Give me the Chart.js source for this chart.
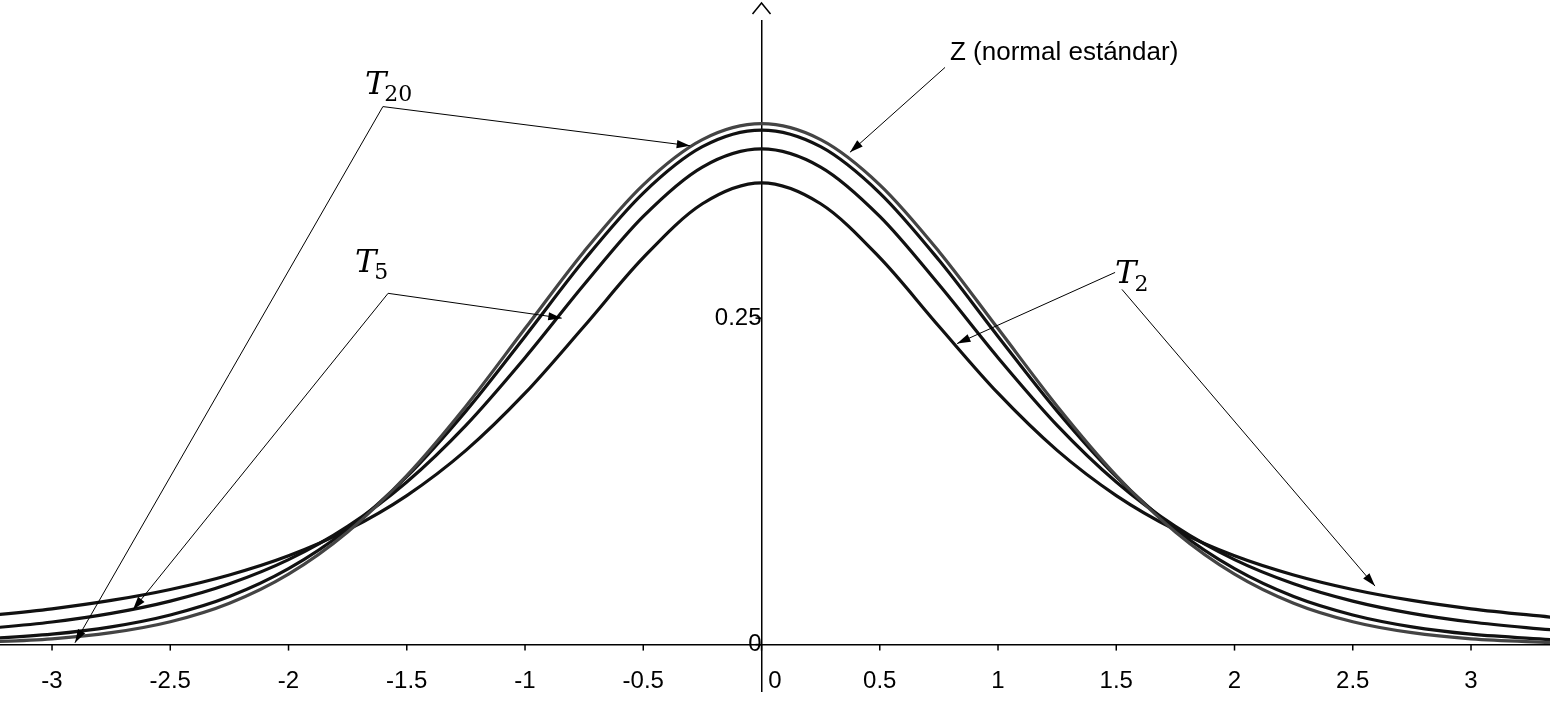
<!DOCTYPE html>
<html lang="es">
<head>
<meta charset="UTF-8">
<title>Z vs T</title>
<script src="https://cdn.jsdelivr.net/npm/chart.js"></script>
<style>
  html, body { margin: 0; padding: 0; background: #fff; }
  #wrap { width: 1550px; height: 712px; }
</style>
</head>
<body>
<div id="wrap"><canvas id="c"></canvas></div>
<script>
// x positions (read along the axis)
const xs = [-3.35, -3, -2.75, -2.5, -2.25, -2, -1.75, -1.5, -1.25, -1, -0.75, -0.5, -0.25, 0,
            0.25, 0.5, 0.75, 1, 1.25, 1.5, 1.75, 2, 2.25, 2.5, 2.75, 3, 3.35];
// density values
const zVals   = [0.0015, 0.0044, 0.0091, 0.0175, 0.0317, 0.0540, 0.0863, 0.1295, 0.1826, 0.2420, 0.3011, 0.3521, 0.3867, 0.3989,
                 0.3867, 0.3521, 0.3011, 0.2420, 0.1826, 0.1295, 0.0863, 0.0540, 0.0317, 0.0175, 0.0091, 0.0044, 0.0015];
const t20Vals = [0.0037, 0.0080, 0.0136, 0.0227, 0.0368, 0.0581, 0.0883, 0.1286, 0.1788, 0.2360, 0.2945, 0.3458, 0.3813, 0.3940,
                 0.3813, 0.3458, 0.2945, 0.2360, 0.1788, 0.1286, 0.0883, 0.0581, 0.0368, 0.0227, 0.0136, 0.0080, 0.0037];
const t5Vals  = [0.0111, 0.0173, 0.0239, 0.0333, 0.0466, 0.0651, 0.0905, 0.1245, 0.1679, 0.2197, 0.2757, 0.3279, 0.3657, 0.3796,
                 0.3657, 0.3279, 0.2757, 0.2197, 0.1679, 0.1245, 0.0905, 0.0651, 0.0466, 0.0333, 0.0239, 0.0173, 0.0111];
const t2Vals  = [0.0208, 0.0274, 0.0338, 0.0422, 0.0533, 0.0680, 0.0878, 0.1141, 0.1487, 0.1925, 0.2438, 0.2963, 0.3376, 0.3536,
                 0.3376, 0.2963, 0.2438, 0.1925, 0.1487, 0.1141, 0.0878, 0.0680, 0.0533, 0.0422, 0.0338, 0.0274, 0.0208];
const xTicks = [-3, -2.5, -2, -1.5, -1, -0.5, 0, 0.5, 1, 1.5, 2, 2.5, 3];
const yTicks = [0, 0.25];

const pts = vals => xs.map((x, i) => ({ x: x, y: vals[i] }));

// labels with leader lines, in data units: [text, sub, lx, ly, [[from, to], ...]]
const notes = [
  ['T', '20', -1.677, 0.428, [[[-1.601, 0.412], [-0.302, 0.382]], [[-1.601, 0.412], [-2.903, 0.0014]]]],
  ['T', '5', -1.719, 0.292, [[[-1.579, 0.269], [-0.845, 0.250]], [[-1.579, 0.269], [-2.658, 0.0267]]]],
  ['T', '2', 1.495, 0.283, [[[1.495, 0.285], [0.827, 0.2305]], [[1.524, 0.272], [2.594, 0.0448]]]],
  ['Z (normal estándar)', '', 0.797, 0.453, [[[0.776, 0.442], [0.374, 0.377]]]]
];

function arrow(ctx, x1, y1, x2, y2) {
  ctx.beginPath(); ctx.moveTo(x1, y1); ctx.lineTo(x2, y2); ctx.stroke();
  const a = Math.atan2(y2 - y1, x2 - x1), L = 14, w = 0.3;
  ctx.beginPath();
  ctx.moveTo(x2, y2);
  ctx.lineTo(x2 - L * Math.cos(a - w), y2 - L * Math.sin(a - w));
  ctx.lineTo(x2 - L * Math.cos(a + w), y2 - L * Math.sin(a + w));
  ctx.closePath(); ctx.fill();
}

const notesPlugin = {
  id: 'notes',
  afterDatasetsDraw(chart) {
    const ctx = chart.ctx, sx = chart.scales.x, sy = chart.scales.y;
    ctx.save();
    ctx.strokeStyle = '#000'; ctx.fillStyle = '#000'; ctx.lineWidth = 1;
    const x0 = sx.getPixelForValue(0), y0 = sy.getPixelForValue(0);
    // y axis arrow head
    ctx.lineWidth = 1.5;
    ctx.beginPath(); ctx.moveTo(x0 - 9, 14); ctx.lineTo(x0, 3); ctx.lineTo(x0 + 9, 14); ctx.stroke();
    // small tick marks
    xTicks.forEach(v => { const p = sx.getPixelForValue(v); ctx.beginPath(); ctx.moveTo(p, y0); ctx.lineTo(p, y0 + 6); ctx.stroke(); });
    yTicks.forEach(v => { const p = sy.getPixelForValue(v); ctx.beginPath(); ctx.moveTo(x0, p); ctx.lineTo(x0 - 6, p); ctx.stroke(); });
    ctx.lineWidth = 1;
    notes.forEach(([t, sub, lx, ly, lines]) => {
      lines.forEach(([a, b]) => arrow(ctx, sx.getPixelForValue(a[0]), sy.getPixelForValue(a[1]),
                                            sx.getPixelForValue(b[0]), sy.getPixelForValue(b[1])));
      const px = sx.getPixelForValue(lx), py = sy.getPixelForValue(ly);
      ctx.textBaseline = 'middle';
      if (sub) {
        ctx.font = 'italic 32px "DejaVu Serif", serif';
        ctx.fillText(t, px, py);
        const w = ctx.measureText(t).width;
        ctx.font = '22px "DejaVu Serif", serif';
        ctx.fillText(sub, px + w - 2, py + 10);
      } else {
        ctx.font = '26px "Liberation Sans", Arial, sans-serif';
        ctx.fillText(t, px, py);
      }
    });
    ctx.restore();
  }
};

const line = vals => ({
  data: pts(vals), borderWidth: 3.2, pointRadius: 0, showLine: true,
  tension: 0.4, cubicInterpolationMode: 'monotone', fill: false
});

const font = { size: 24, family: '"Liberation Sans", Arial' };

new Chart(document.getElementById('c'), {
  type: 'scatter',
  data: {
    datasets: [
      Object.assign(line(zVals), { borderColor: '#444' }),
      Object.assign(line(t20Vals), { borderColor: '#111' }),
      Object.assign(line(t5Vals), { borderColor: '#111' }),
      Object.assign(line(t2Vals), { borderColor: '#111' })
    ]
  },
  options: {
    responsive: true, maintainAspectRatio: false, animation: false,
    layout: { padding: 0 },
    plugins: { legend: { display: false }, tooltip: { enabled: false } },
    scales: {
      x: {
        type: 'linear', min: -3.22, max: 3.334, position: { y: 0 },
        grid: { display: false },
        border: { color: '#000', width: 1.5 },
        afterBuildTicks: s => { s.ticks = xTicks.map(v => ({ value: v })); },
        afterFit: s => { s.height = 0; },
        ticks: { color: '#000', font: font, padding: 14,
                 callback: v => v === 0 ? '    0' : String(v) }
      },
      y: {
        type: 'linear', min: -0.036, max: 0.478, position: { x: 0 },
        grid: { display: false },
        border: { color: '#000', width: 1.5 },
        afterBuildTicks: s => { s.ticks = yTicks.map(v => ({ value: v })); },
        afterFit: s => { s.width = 0; },
        ticks: { color: '#000', font: font, padding: 6,
                 callback: v => v === 0 ? '0' : String(v) }
      }
    }
  },
  plugins: [notesPlugin]
});
</script>
</body>
</html>
